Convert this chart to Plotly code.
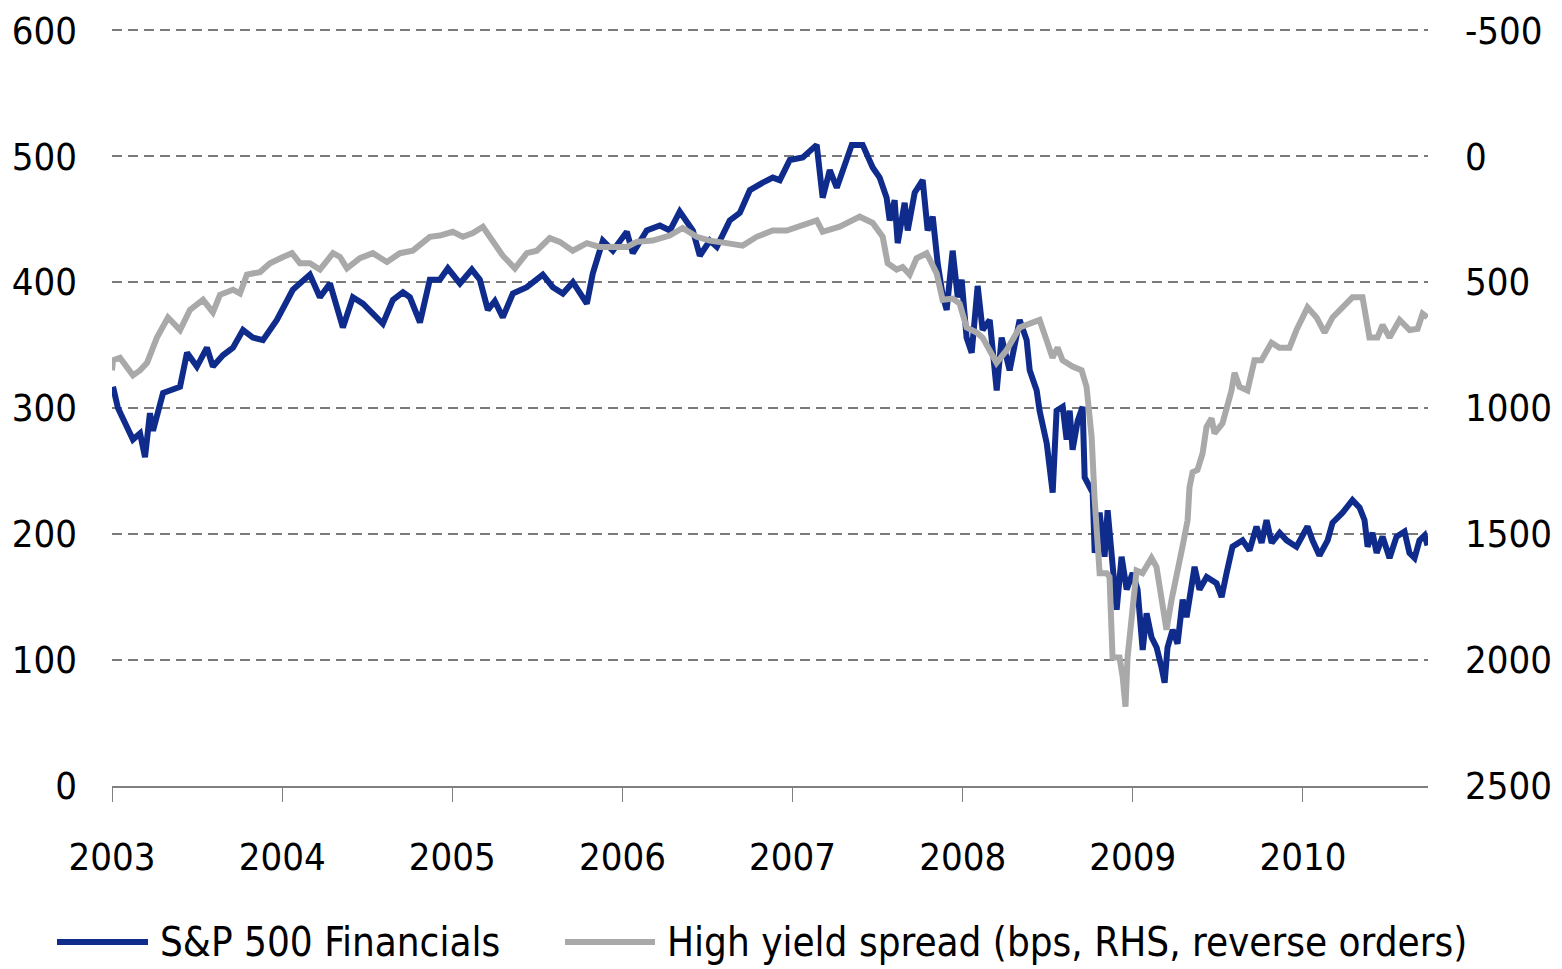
import plotly.graph_objects as go

# S&P 500 Financials (left axis), x as decimal years
fin_t = [2003.006, 2003.035, 2003.088, 2003.123, 2003.165, 2003.194, 2003.223, 2003.241, 2003.300, 2003.353,
         2003.400, 2003.441, 2003.499, 2003.558, 2003.593, 2003.652, 2003.711, 2003.770, 2003.828, 2003.887,
         2003.969, 2004.063, 2004.163, 2004.222, 2004.281, 2004.357, 2004.416, 2004.475, 2004.533, 2004.592,
         2004.651, 2004.710, 2004.751, 2004.810, 2004.868, 2004.927, 2004.974, 2005.045, 2005.115, 2005.162,
         2005.209, 2005.250, 2005.297, 2005.356, 2005.438, 2005.532, 2005.591, 2005.650, 2005.709, 2005.750,
         2005.791, 2005.826, 2005.885, 2005.944, 2006.026, 2006.061, 2006.102, 2006.143, 2006.220, 2006.279,
         2006.337, 2006.378, 2006.414, 2006.455, 2006.514, 2006.555, 2006.631, 2006.690, 2006.749, 2006.825,
         2006.884, 2006.925, 2006.984, 2007.060, 2007.142, 2007.177, 2007.219, 2007.260, 2007.348, 2007.412,
         2007.471, 2007.512, 2007.553, 2007.571, 2007.600, 2007.618, 2007.659, 2007.677, 2007.718, 2007.765,
         2007.794, 2007.824, 2007.853, 2007.882, 2007.906, 2007.941, 2007.971, 2007.994, 2008.023, 2008.053,
         2008.088, 2008.117, 2008.159, 2008.200, 2008.229, 2008.276, 2008.335, 2008.376, 2008.394, 2008.435,
         2008.452, 2008.494, 2008.529, 2008.552, 2008.588, 2008.611, 2008.629, 2008.646, 2008.676, 2008.705,
         2008.717, 2008.764, 2008.776, 2008.805, 2008.834, 2008.852, 2008.875, 2008.905, 2008.934, 2008.964,
         2008.999, 2009.028, 2009.058, 2009.081, 2009.110, 2009.140, 2009.169, 2009.187, 2009.204, 2009.234,
         2009.263, 2009.293, 2009.316, 2009.363, 2009.392, 2009.434, 2009.492, 2009.522, 2009.551, 2009.586,
         2009.645, 2009.686, 2009.727, 2009.757, 2009.786, 2009.816, 2009.863, 2009.904, 2009.962, 2010.027,
         2010.056, 2010.097, 2010.145, 2010.174, 2010.233, 2010.291, 2010.333, 2010.362, 2010.380, 2010.409,
         2010.433, 2010.468, 2010.509, 2010.550, 2010.597, 2010.626, 2010.656, 2010.685, 2010.715, 2010.732]
fin_v = [317, 300, 285, 275, 280, 261, 296, 282, 312, 315,
         317, 344, 333, 348, 333, 342, 348, 362, 356, 354,
         370, 394, 406, 388, 399, 364, 388, 383, 375, 367,
         386, 392, 388, 368, 402, 402, 411, 399, 410, 402,
         378, 385, 372, 391, 396, 406, 396, 391, 400, 391,
         383, 407, 433, 425, 440, 423, 431, 441, 445, 441,
         456, 449, 441, 421, 433, 428, 449, 455, 473, 479,
         483, 481, 497, 499, 509, 467, 489, 475, 509, 509,
         491, 483, 467, 449, 465, 431, 463, 441, 471, 481,
         441, 452, 415, 390, 378, 425, 388, 402, 356, 344,
         397, 362, 370, 314, 356, 330, 370, 354, 330, 314,
         298, 272, 233, 298, 301, 275, 298, 267, 290, 301,
         245, 233, 185, 217, 182, 219, 185, 140, 182, 156,
         169, 156, 108, 137, 118, 110, 94, 82, 110, 124,
         113, 148, 134, 174, 156, 166, 161, 150, 169, 190,
         195, 187, 206, 193, 211, 193, 201, 195, 190, 206,
         195, 183, 195, 209, 217, 227, 221, 211, 190, 201,
         185, 198, 181, 198, 202, 185, 181, 195, 199, 191]

# High yield spread, bps (right axis, reversed)
hy_t = [2003.000, 2003.006, 2003.047, 2003.088, 2003.123, 2003.165, 2003.206, 2003.264, 2003.329, 2003.400,
        2003.458, 2003.535, 2003.593, 2003.635, 2003.711, 2003.752, 2003.793, 2003.870, 2003.928, 2004.005,
        2004.058, 2004.105, 2004.163, 2004.222, 2004.299, 2004.340, 2004.381, 2004.457, 2004.533, 2004.616,
        2004.692, 2004.768, 2004.827, 2004.868, 2004.927, 2005.003, 2005.062, 2005.121, 2005.180, 2005.238,
        2005.297, 2005.368, 2005.438, 2005.497, 2005.573, 2005.632, 2005.708, 2005.791, 2005.867, 2005.943,
        2006.026, 2006.084, 2006.178, 2006.278, 2006.354, 2006.437, 2006.513, 2006.613, 2006.707, 2006.789,
        2006.883, 2006.966, 2007.042, 2007.142, 2007.177, 2007.277, 2007.395, 2007.471, 2007.530, 2007.559,
        2007.612, 2007.647, 2007.688, 2007.729, 2007.788, 2007.847, 2007.882, 2007.941, 2007.982, 2008.023,
        2008.082, 2008.117, 2008.199, 2008.258, 2008.335, 2008.393, 2008.452, 2008.493, 2008.528, 2008.558,
        2008.587, 2008.646, 2008.699, 2008.728, 2008.758, 2008.775, 2008.805, 2008.846, 2008.863, 2008.881,
        2008.922, 2008.940, 2008.957, 2008.969, 2008.998, 2009.022, 2009.057, 2009.110, 2009.139, 2009.169,
        2009.198, 2009.228, 2009.263, 2009.292, 2009.322, 2009.333, 2009.351, 2009.380, 2009.410, 2009.433,
        2009.463, 2009.480, 2009.527, 2009.557, 2009.580, 2009.598, 2009.627, 2009.674, 2009.715, 2009.756,
        2009.815, 2009.862, 2009.921, 2009.962, 2010.027, 2010.080, 2010.127, 2010.174, 2010.233, 2010.291,
        2010.350, 2010.368, 2010.391, 2010.438, 2010.468, 2010.509, 2010.568, 2010.627, 2010.674, 2010.703,
        2010.732]
hy_v = [850, 810, 800, 835, 870, 850, 820, 720, 640, 690,
        610, 570, 620, 550, 530, 545, 470, 460, 425, 400,
        385, 425, 425, 450, 385, 400, 445, 405, 385, 420,
        385, 375, 345, 320, 315, 300, 320, 305, 280, 335,
        395, 445, 385, 375, 325, 340, 375, 345, 360, 360,
        360, 340, 335, 315, 285, 320, 335, 345, 355, 320,
        295, 295, 275, 255, 300, 280, 240, 265, 320, 425,
        450, 440, 470, 405, 385, 465, 570, 565, 585, 680,
        700, 720, 820, 770, 680, 665, 650, 730, 800, 760,
        810, 835, 850, 915, 1115, 1355, 1655, 1655, 1670, 1990,
        1990, 2065, 2185, 1990, 1790, 1645, 1655, 1595, 1630, 1760,
        1880, 1760, 1655, 1550, 1445, 1315, 1255, 1245, 1180, 1075,
        1040, 1100, 1060, 995, 930, 860, 915, 930, 810, 810,
        740, 760, 760, 690, 600, 640, 700, 640, 600, 560,
        560, 640, 720, 720, 670, 720, 650, 690, 685, 625,
        640]

year_ticks = [2003, 2004, 2005, 2006, 2007, 2008, 2009, 2010]
left_ticks = [0, 100, 200, 300, 400, 500, 600]
right_ticks = [-500, 0, 500, 1000, 1500, 2000, 2500]
right_labels = ["-500", "0", "500", "1000", "1500", "2000", "2500"]

FONT = "DejaVu Sans Condensed, DejaVu Sans, sans-serif"
FS = 38
FS_LEG = 40
BLUE = "#0f2c8c"
GRAY = "#a9a9a9"

fig = go.Figure()
fig.add_trace(go.Scatter(x=fin_t, y=fin_v, mode="lines", name="S&P 500 Financials",
                         line=dict(color=BLUE, width=6), yaxis="y"))
fig.add_trace(go.Scatter(x=hy_t, y=hy_v, mode="lines", name="High yield spread (bps, RHS, reverse orders)",
                         line=dict(color=GRAY, width=6), yaxis="y2"))

# tiny headroom above 600 so the top dashed gridline is drawn; right axis kept aligned (R = 2500 - 5*L)
fig.update_layout(
    width=1562, height=969,
    margin=dict(l=112, r=134, t=29, b=183),
    paper_bgcolor="white", plot_bgcolor="white",
    showlegend=False,
    font=dict(family=FONT, size=FS, color="black"),
    xaxis=dict(range=[2003, 2010.735], tickvals=year_ticks, ticktext=[str(y) for y in year_ticks],
               showgrid=False, zeroline=False, showline=True, linecolor="#808080", linewidth=2,
               ticks="outside", ticklen=14, tickcolor="#808080", tickwidth=1, automargin=False,
               ticklabelstandoff=22, tickfont=dict(family=FONT, size=FS)),
    yaxis=dict(range=[0, 601], tickvals=left_ticks, showgrid=True, gridcolor="#7a7a7a",
               gridwidth=1.5, griddash="10px,6px", zeroline=False, showline=False, automargin=False,
               ticks="", ticklabelstandoff=34, tickfont=dict(family=FONT, size=FS)),
    yaxis2=dict(range=[2500, -505], tickvals=right_ticks, ticktext=right_labels,
                overlaying="y", side="right", automargin=False,
                showgrid=False, zeroline=False, showline=False, ticks="",
                ticklabelstandoff=36, tickfont=dict(family=FONT, size=FS)),
)

# Legend drawn below the plot (long line samples like the original)
plot_h = 969 - 29 - 183
legend_items = [("S&P 500 Financials", BLUE, 57, 148, 158),
                ("High yield spread (bps, RHS, reverse orders)", GRAY, 565, 655, 665)]
for label, color, x0, x1, xt in legend_items:
    ly = -(942 - 786) / plot_h
    fig.add_shape(type="line", xref="paper", yref="paper",
                  x0=(x0 - 112) / 1316, x1=(x1 - 112) / 1316, y0=ly, y1=ly,
                  line=dict(color=color, width=6))
    fig.add_annotation(text=label, xref="paper", yref="paper",
                       x=(xt - 112) / 1316, y=ly,
                       xanchor="left", yanchor="middle", showarrow=False,
                       font=dict(family=FONT, size=FS_LEG, color="black"))

# remove the browser's default 8px body margin so the 1562x969 figure fills the window
fig.write_html("out.html", config={"displayModeBar": False},
               post_script="document.body.style.margin='0';document.body.style.overflow='hidden';")
